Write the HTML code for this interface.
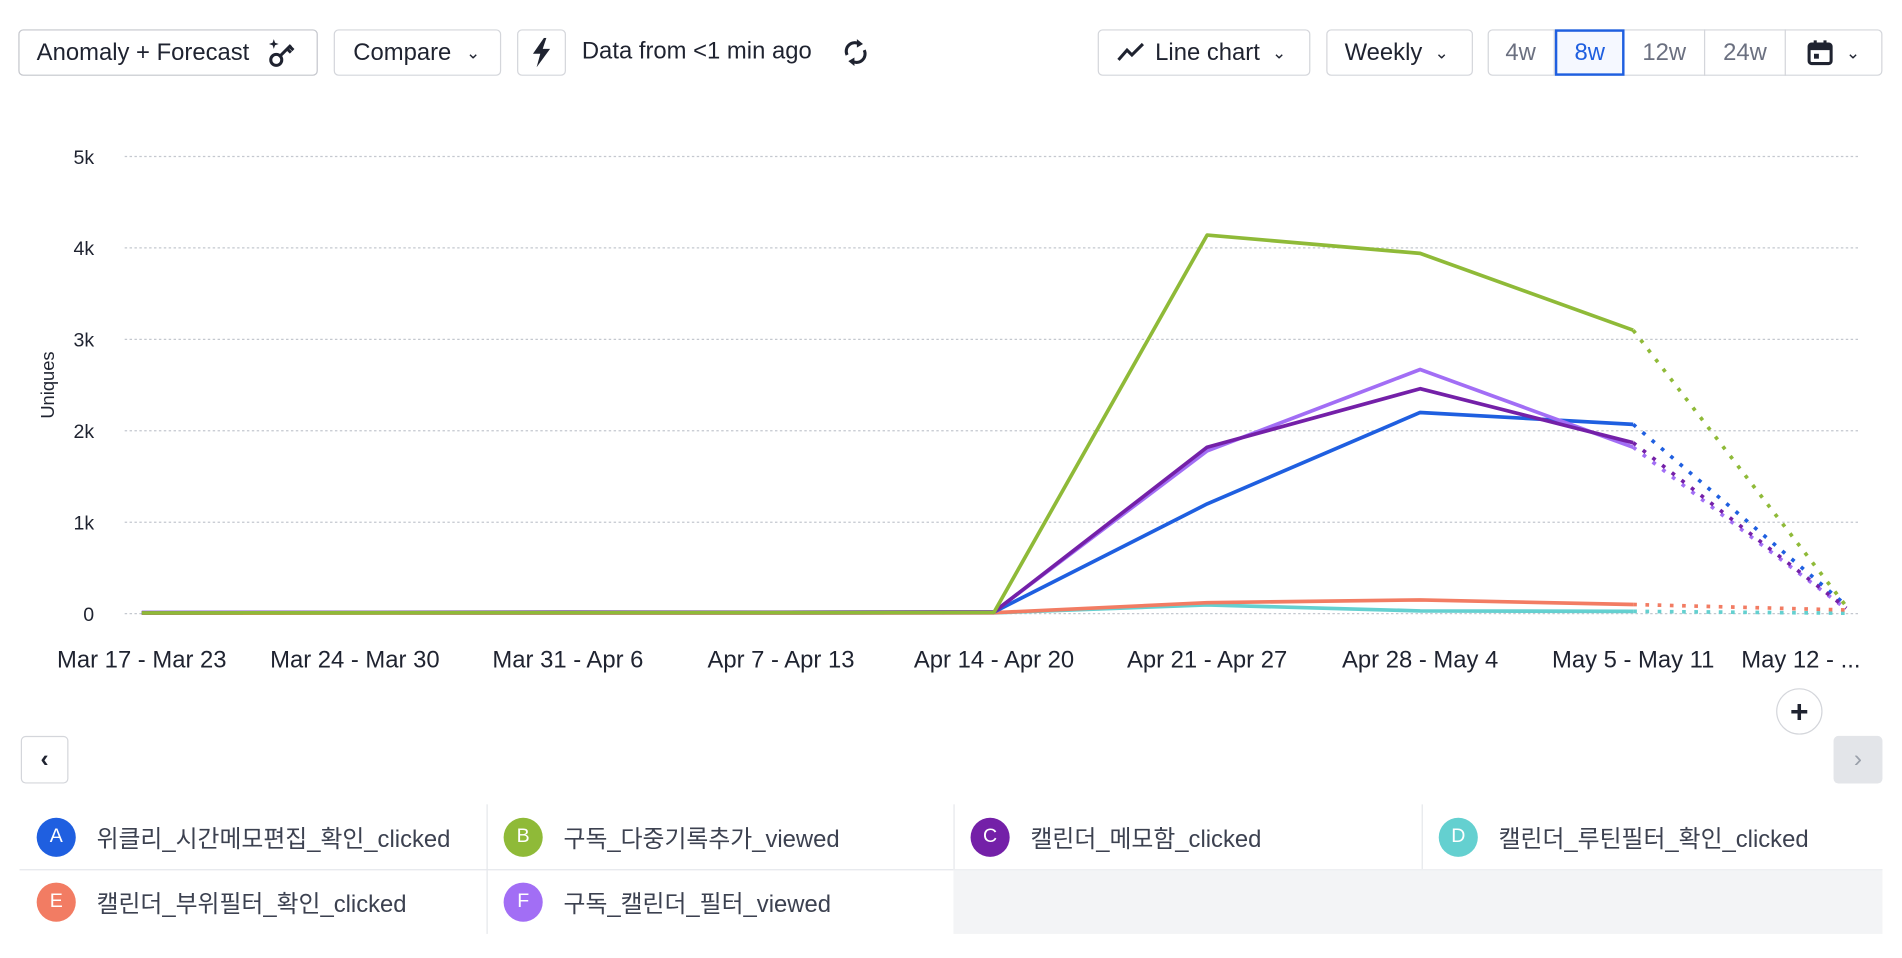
<!DOCTYPE html>
<html><head><meta charset="utf-8">
<style>
html,body{margin:0;padding:0;background:#fff;overflow:hidden;width:1902px;height:958px}
#wrap{position:absolute;left:0;top:0;width:1556px;height:784px;transform-origin:0 0;transform:scale(1.22237,1.2224);font-family:"Liberation Sans","Noto Sans CJK KR",sans-serif;color:#1f2330}
.btn{position:absolute;top:24px;height:36px;border:1px solid #d4d6db;border-radius:4px;box-sizing:border-box;display:flex;align-items:center;font-size:19.5px;color:#1f2330;background:#fff}
.seg{position:absolute;top:24px;height:38px;display:flex;align-items:center;justify-content:center;font-size:19.5px;color:#6b7080;box-sizing:border-box;border-right:1px solid #d4d6db}
.leg{position:absolute;height:53px;display:flex;align-items:center;font-size:19.5px;color:#3c4150;box-sizing:border-box}
.dot{width:32px;height:32px;border-radius:50%;color:#fff;font-size:16px;display:flex;align-items:center;justify-content:center;margin-left:14px;margin-right:17px}
</style></head><body>
<div id="wrap">
<div class="btn" style="left:15px;width:245px;height:38px;border-color:#c4c6cc;padding-left:14px">Anomaly + Forecast
<svg width="26" height="26" viewBox="0 0 26 26" style="margin-left:14px"><circle cx="8" cy="19" r="4.5" fill="none" stroke="#1f2330" stroke-width="2.5"/><path d="M11 16 L20 7 M17 10 L20 13 M19 8 L22 11" stroke="#1f2330" stroke-width="2.5" fill="none"/><path d="M6 2 L7 5 L10 6 L7 7 L6 10 L5 7 L2 6 L5 5Z" fill="#1f2330"/></svg></div>
<div class="btn" style="left:273px;width:137px;height:38px;padding-left:15px">Compare <span style="margin-left:12px;font-size:14px">&#8964;</span></div>
<div class="btn" style="left:423px;width:40px;height:38px;justify-content:center"><svg width="18" height="24" viewBox="0 0 18 24"><path d="M11 0 L2 13 L8 13 L5 24 L16 9 L10 9 L13 0Z" fill="#1f2330"/></svg></div>
<div style="position:absolute;left:476px;top:31px;font-size:19.5px">Data from &lt;1 min ago</div>
<svg style="position:absolute;left:688px;top:30px" width="24" height="26" viewBox="0 0 24 26"><path d="M5 15 A7 7 0 0 1 15 6 M19 11 A7 7 0 0 1 9 20" fill="none" stroke="#1f2330" stroke-width="2.5"/><path d="M13 2 L18 6 L13 9Z M11 24 L6 20 L11 17Z" fill="#1f2330"/></svg>
<div class="btn" style="left:898px;width:174px;height:38px;padding-left:14px"><svg width="24" height="20" viewBox="0 0 24 20" style="margin-right:8px"><path d="M2 16 L9 8 L13 12 L22 3" fill="none" stroke="#1f2330" stroke-width="2.5"/></svg>Line chart <span style="margin-left:10px;font-size:14px">&#8964;</span></div>
<div class="btn" style="left:1085px;width:120px;height:38px;padding-left:14px">Weekly <span style="margin-left:10px;font-size:14px">&#8964;</span></div>
<div style="position:absolute;left:1217px;top:24px;width:323px;height:38px;border:1px solid #d4d6db;border-radius:4px;box-sizing:border-box"></div>
<div class="seg" style="left:1217px;width:55px">4w</div>
<div class="seg" style="left:1272px;width:57px;border:2px solid #1f5fe0;color:#1f5fe0;background:#f5f8ff">8w</div>
<div class="seg" style="left:1329px;width:66px">12w</div>
<div class="seg" style="left:1395px;width:66px">24w</div>
<div class="seg" style="left:1461px;width:78px;border-right:none;color:#1f2330"><svg width="22" height="22" viewBox="0 0 22 22"><rect x="2" y="4" width="18" height="16" rx="2" fill="none" stroke="#1f2330" stroke-width="2.5"/><rect x="2" y="4" width="18" height="5" fill="#1f2330"/><rect x="6" y="12" width="4" height="4" fill="#1f2330"/><path d="M7 1 V5 M15 1 V5" stroke="#1f2330" stroke-width="2.5"/></svg><span style="margin-left:10px;font-size:14px">&#8964;</span></div>

<svg id="chart" style="position:absolute;left:0;top:0" width="1556" height="570">
<text x="44" y="315" transform="rotate(-90 44 315)" text-anchor="middle" font-size="15" fill="#1f2330" font-family="Liberation Sans, sans-serif">Uniques</text>
<g id="grid"></g><g id="series"></g><g id="xlabels"></g>
</svg>

<div style="position:absolute;left:1453px;top:563px;width:38px;height:38px;border:1px solid #d4d6db;border-radius:50%;box-sizing:border-box;display:flex;align-items:center;justify-content:center;font-size:26px;font-weight:bold;background:#fff">+</div>
<div style="position:absolute;left:17px;top:602px;width:39px;height:39px;border:1px solid #d4d6db;border-radius:4px;box-sizing:border-box;display:flex;align-items:center;justify-content:center;font-size:20px;font-weight:bold">&#8249;</div>
<div style="position:absolute;left:1500px;top:602px;width:40px;height:39px;background:#e3e5e9;border-radius:4px;display:flex;align-items:center;justify-content:center;font-size:20px;color:#9aa0aa">&#8250;</div>

<div style="position:absolute;left:16px;top:658px;width:1524px;height:106px">
<div style="position:absolute;left:764px;top:53px;width:760px;height:53px;background:#f3f4f6"></div>
<div style="position:absolute;left:0;top:53px;width:764px;height:1px;background:#e5e7eb"></div>
<div style="position:absolute;left:764px;top:53px;width:760px;height:1px;background:#eceef1"></div>
<div style="position:absolute;left:382px;top:0;width:1px;height:106px;background:#e5e7eb"></div>
<div style="position:absolute;left:764px;top:0;width:1px;height:53px;background:#e5e7eb"></div>
<div style="position:absolute;left:1147px;top:0;width:1px;height:53px;background:#e5e7eb"></div>
<div class="leg" style="left:0;top:0"><span class="dot" style="background:#1f5fe0">A</span>위클리_시간메모편집_확인_clicked</div>
<div class="leg" style="left:382px;top:0"><span class="dot" style="background:#8fba38">B</span>구독_다중기록추가_viewed</div>
<div class="leg" style="left:764px;top:0"><span class="dot" style="background:#7420a8">C</span>캘린더_메모함_clicked</div>
<div class="leg" style="left:1147px;top:0"><span class="dot" style="background:#64d0d0">D</span>캘린더_루틴필터_확인_clicked</div>
<div class="leg" style="left:0;top:53px"><span class="dot" style="background:#f27c63">E</span>캘린더_부위필터_확인_clicked</div>
<div class="leg" style="left:382px;top:53px"><span class="dot" style="background:#a26ef5">F</span>구독_캘린더_필터_viewed</div>
</div>
</div>
<script>
const categories=["Mar 17 - Mar 23","Mar 24 - Mar 30","Mar 31 - Apr 6","Apr 7 - Apr 13","Apr 14 - Apr 20","Apr 21 - Apr 27","Apr 28 - May 4","May 5 - May 11","May 12 - ..."];
const yTicks=[0,1000,2000,3000,4000,5000];
const yTickLabels=["0","1k","2k","3k","4k","5k"];
const seriesA=[10,12,15,14,18,1200,2200,2070,90];
const seriesB=[8,10,12,12,15,4140,3940,3100,80];
const seriesC=[10,12,14,14,18,1820,2460,1870,60];
const seriesD=[5,5,6,6,8,95,30,25,5];
const seriesE=[5,6,6,7,10,120,150,100,40];
const seriesF=[12,14,18,16,20,1780,2670,1820,50];
const seriesNames=["a","b","c","d","e","f"];
const seriesColors=["#1f5fe0","#8fba38","#7420a8","#64d0d0","#f27c63","#a26ef5"];
const allSeries=[seriesA,seriesB,seriesC,seriesD,seriesE,seriesF];
const NS="http://www.w3.org/2000/svg";
const x0=116,xStep=174.3,yBase=502,yTop=128,yMax=5000;
function xs(i){return x0+i*xStep;}
function ys(v){return yBase-(v/yMax)*(yBase-yTop);}
const grid=document.getElementById('grid');
yTicks.forEach((t,i)=>{
 const l=document.createElementNS(NS,'line');
 l.setAttribute('x1',102);l.setAttribute('x2',1522);l.setAttribute('y1',ys(t));l.setAttribute('y2',ys(t));
 l.setAttribute('stroke','#c4c8cf');l.setAttribute('stroke-dasharray','2 2');
 
 
 grid.appendChild(l);
 const tx=document.createElementNS(NS,'text');
 tx.setAttribute('x',77);tx.setAttribute('y',ys(t)+6);tx.setAttribute('text-anchor','end');
 tx.setAttribute('font-size','16');tx.setAttribute('fill','#1f2330');tx.setAttribute('font-family','Liberation Sans, sans-serif');
 tx.textContent=yTickLabels[i];
 
 
 grid.appendChild(tx);
});
const xl=document.getElementById('xlabels');
categories.forEach((c,i)=>{
 const tx=document.createElementNS(NS,'text');
 const last=i===categories.length-1;
 tx.setAttribute('x',last?1522:xs(i));tx.setAttribute('y',546);tx.setAttribute('text-anchor',last?'end':'middle');
 tx.setAttribute('font-size','19.5');tx.setAttribute('fill','#1f2330');tx.setAttribute('font-family','Liberation Sans, sans-serif');
 tx.textContent=c;
 
 
 xl.appendChild(tx);
});
const sg=document.getElementById('series');
const order=[3,4,0,5,2,1];
order.forEach(k=>{
 const s=allSeries[k];
 const n=s.length;
 const solid=s.slice(0,n-1).map((v,i)=>xs(i)+','+ys(v)).join(' ');
 const p=document.createElementNS(NS,'polyline');
 p.setAttribute('points',solid);p.setAttribute('fill','none');p.setAttribute('stroke',seriesColors[k]);
 p.setAttribute('stroke-width','3');p.setAttribute('stroke-linejoin','round');
 
 
 sg.appendChild(p);
 const d=document.createElementNS(NS,'line');
 d.setAttribute('x1',xs(n-2));d.setAttribute('y1',ys(s[n-2]));d.setAttribute('x2',xs(n-1));d.setAttribute('y2',ys(s[n-1]));
 d.setAttribute('stroke',seriesColors[k]);d.setAttribute('stroke-width','3');d.setAttribute('stroke-dasharray','3 7');
 
 
 sg.appendChild(d);
});
</script>
</body></html>
